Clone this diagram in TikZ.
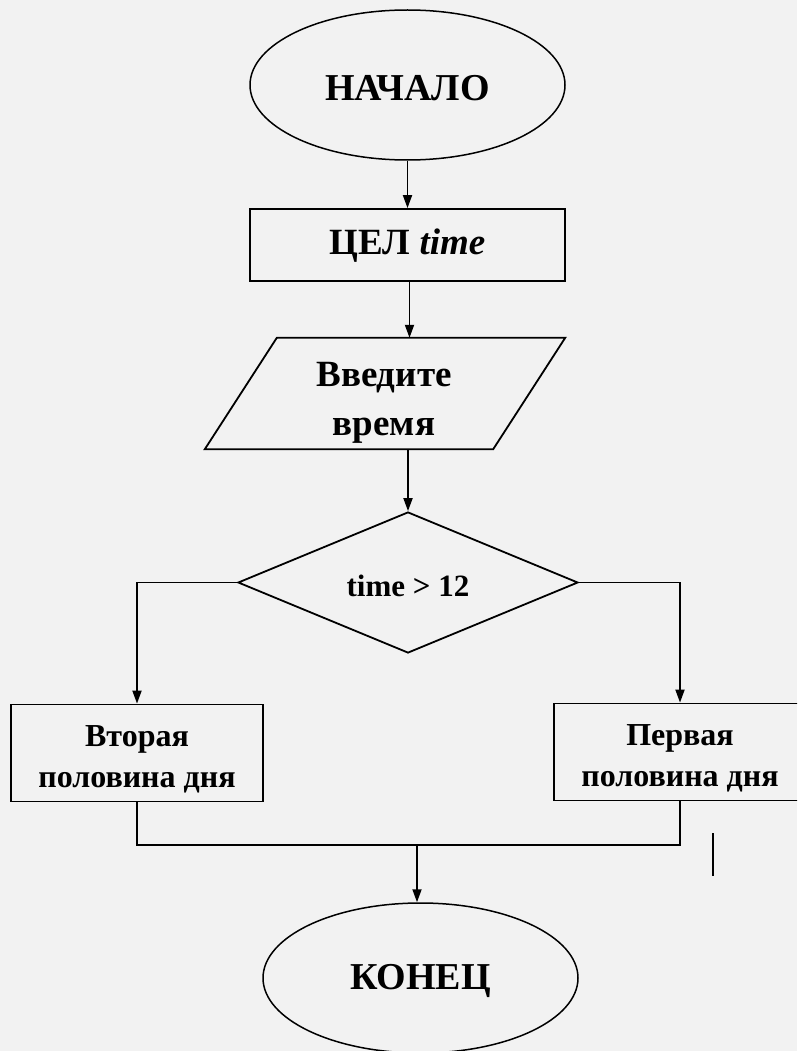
\documentclass[tikz,border=0pt]{standalone}
\usepackage{fontspec}
\setmainfont{Liberation Serif}
\usetikzlibrary{shapes.geometric,arrows.meta,calc}
\definecolor{bg}{HTML}{F2F2F2}
\begin{document}
\begin{tikzpicture}[x=1pt,y=-1pt,
  line/.style={line width=1.8pt, draw=black},
  arr/.style={line, -{Triangle[length=13pt,width=9pt]}},
  term/.style={ellipse, draw, line width=1.5pt, minimum width=315pt, minimum height=150pt, inner sep=0pt, font=\fontsize{38}{40}\selectfont\bfseries},
  procbox/.style={rectangle, draw, line width=1.8pt, inner sep=0pt},
  bigtxt/.style={font=\fontsize{37}{49}\selectfont\bfseries, align=center},
  smalltxt/.style={font=\fontsize{32}{41}\selectfont\bfseries, align=center},
  decision/.style={diamond, draw, line width=1.8pt, minimum width=340pt, minimum height=141pt, aspect=2.4, inner sep=0pt}
]
\fill[bg] (0,0) rectangle (797,1051);
\useasboundingbox (0,0) rectangle (797,1051);
\clip (0,0) rectangle (797,1051);

\node[term, label={[font=\fontsize{38}{40}\selectfont\bfseries, yshift=-3pt]center:НАЧАЛО}] (start) at (407.5,85) {};
\node[procbox, minimum width=315pt, minimum height=72pt, label={[bigtxt, yshift=-1pt]center:ЦЕЛ \textit{time}}] (cel) at (407.5,245) {};
\node[rectangle, inner sep=0pt, minimum width=216pt, minimum height=111pt, label={[bigtxt, yshift=-9pt, xshift=-1pt]center:{Введите\\время}}] (para) at (385,393.5) {};
\draw[line] ([xshift=-72pt]para.south west) -- (para.north west) -- ([xshift=72pt]para.north east) -- (para.south east) -- cycle;
\node[decision, label={[font=\fontsize{31}{34}\selectfont\bfseries, yshift=-3pt]center:time > 12}] (dec) at (408,582.5) {};
\node[procbox, minimum width=252pt, minimum height=97pt, label={[smalltxt, yshift=-6pt]center:{Вторая\\половина дня}}] (left) at (137,753) {};
\node[procbox, minimum width=252pt, minimum height=97pt, label={[smalltxt, yshift=-6pt]center:{Первая\\половина дня}}] (right) at (680,752) {};
\node[term, label={[font=\fontsize{38}{40}\selectfont\bfseries, yshift=-3pt]center:КОНЕЦ}] (end) at (420.5,978) {};

\coordinate (join) at (417,845);
\coordinate (s1) at (713,833);
\coordinate (s2) at (713,876);

\draw[arr] (start.south) -- (cel.north);
\draw[arr] ([xshift=2pt]cel.south) -- ([xshift=2pt]cel.south |- para.north);
\draw[arr] (dec.north |- para.south) -- (dec.north);
\draw[arr] (dec.west) -| (left.north);
\draw[arr] (dec.east) -| (right.north);
\draw[line] (left.south) -- (left.south |- join) -- (right.south |- join) -- (right.south);
\draw[arr] (join) -- (join |- end.north);
\draw[line, line width=1.5pt] (s1) -- (s2);
\end{tikzpicture}
\end{document}
